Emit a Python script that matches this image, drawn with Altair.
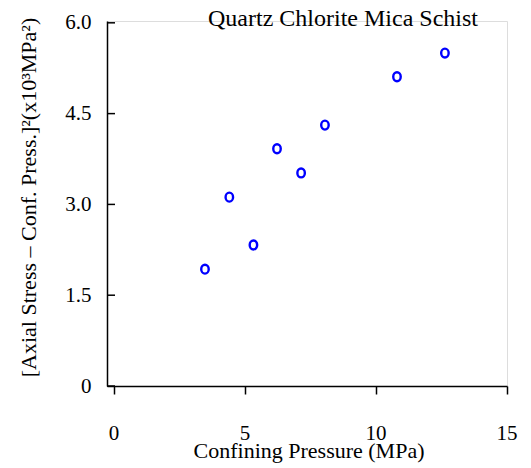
import altair as alt
import pandas as pd

# Data
confining = [3.47, 4.40, 5.32, 6.22, 7.14, 8.05, 10.8, 12.63]
stress_sq = [1.93, 3.12, 2.33, 3.92, 3.52, 4.31, 5.11, 5.50]
y_ticks = [0, 1.5, 3.0, 4.5, 6.0]
x_ticks = [0, 5, 10, 15]
x_tick_labels = ["0", "5", "10", "15"]
chart_title = "Quartz Chlorite Mica Schist"
x_title = "Confining Pressure (MPa)"
y_title = "[Axial Stress \u2013 Conf. Press.]\u00b2(x10\u00b3MPa\u00b2)"

df = pd.DataFrame({"x": confining, "y": stress_sq})
ticks_df = pd.DataFrame({"y": y_ticks})
xlab_df = pd.DataFrame({"x": x_ticks, "lab": x_tick_labels})
title_df = pd.DataFrame({"t": [chart_title]})
xtitle_df = pd.DataFrame({"t": [x_title]})

FONT = "Liberation Serif"

xscale = alt.Scale(domain=[-0.27, 15], nice=False, zero=False)
yscale = alt.Scale(domain=[0, 6.03], nice=False)

ellipse = "M0,-1.2A1,1.2 0 1,1 0,1.2A1,1.2 0 1,1 0,-1.2Z"

points = alt.Chart(df).mark_point(
    shape=ellipse, size=56, filled=False, strokeWidth=2.4,
    color="#0000ff", opacity=1
).encode(
    x=alt.X("x:Q", scale=xscale, axis=alt.Axis(
        values=x_ticks, labels=False, title=None,
        tickSize=8, tickWidth=1.5, tickColor="black",
        domainWidth=1.5, domainColor="black",
        grid=False,
    )),
    y=alt.Y("y:Q", scale=yscale, axis=alt.Axis(
        values=y_ticks, labelExpr="datum.value == 0 ? '0' : format(datum.value, '.1f')",
        title=y_title, ticks=False, tickSize=0,
        domainWidth=1.5, domainColor="black",
        labelPadding=16, labelFontSize=21, labelFont=FONT, labelColor="black",
        labelOverlap=False, labelFlush=False, labelBound=False,
        titleFont=FONT, titleFontSize=22, titleFontWeight="normal", titleColor="black",
        titleBaseline="alphabetic", titleX=-72, titleY=176, titleAngle=-90, grid=False,
    )),
)

yticks = alt.Chart(ticks_df).mark_tick(
    orient="horizontal", size=8, thickness=1.5, color="black", opacity=1
).encode(
    y=alt.Y("y:Q", scale=yscale),
    x=alt.value(4),
)

xlabels = alt.Chart(xlab_df).mark_text(
    font=FONT, fontSize=21, color="black", align="center", baseline="alphabetic"
).encode(
    x=alt.X("x:Q", scale=xscale),
    text="lab:N",
    y=alt.value(419),
)

title_text = alt.Chart(title_df).mark_text(
    font=FONT, fontSize=24, color="black", align="center", baseline="alphabetic"
).encode(
    text="t:N",
    x=alt.value(236),
    y=alt.value(5),
)

xtitle_text = alt.Chart(xtitle_df).mark_text(
    font=FONT, fontSize=22, color="black", align="center", baseline="alphabetic"
).encode(
    text="t:N",
    x=alt.value(202),
    y=alt.value(437),
)

chart = alt.layer(points, yticks, xlabels, title_text, xtitle_text).properties(
    width=400, height=365,
    autosize=alt.AutoSizeParams(type="none"),
    padding={"left": 99, "top": 13, "right": 16, "bottom": 80},
).configure_view(stroke=None).configure(background="white")

chart.save("out.html", embed_options={"renderer": "svg", "actions": False})
